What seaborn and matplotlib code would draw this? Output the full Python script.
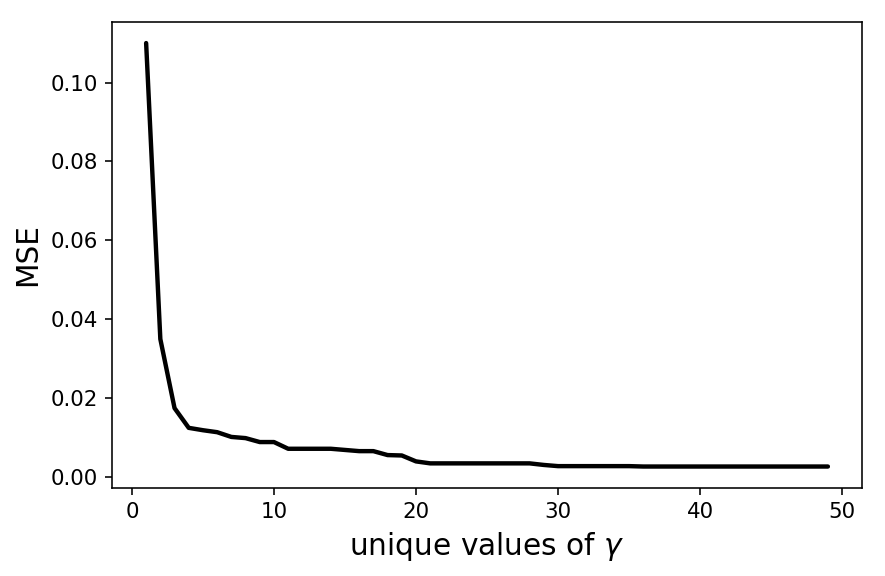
import pandas as pd
import seaborn as sns
import matplotlib.pyplot as plt

# number of unique gamma values vs. MSE
n_unique = list(range(1, 50))
mse = [0.110, 0.035, 0.0175, 0.0125, 0.0119, 0.0114, 0.0102, 0.0099, 0.0089, 0.0089,
       0.0072, 0.0072, 0.0072, 0.0072, 0.0069, 0.0066, 0.0066, 0.0056, 0.0055, 0.0040,
       0.0035, 0.0035, 0.0035, 0.0035, 0.0035, 0.0035, 0.0035, 0.0035, 0.0031, 0.0028,
       0.0028, 0.0028, 0.0028, 0.0028, 0.0028, 0.0027, 0.0027, 0.0027, 0.0027, 0.0027,
       0.0027, 0.0027, 0.0027, 0.0027, 0.0027, 0.0027, 0.0027, 0.0027, 0.0027]

df = pd.DataFrame({'n': n_unique, 'mse': mse})

sns.set_theme(style='ticks', rc={'text.color': 'black', 'axes.labelcolor': 'black',
                                 'xtick.color': 'black', 'ytick.color': 'black',
                                 'axes.edgecolor': 'black'})
plt.rcParams['font.family'] = ['DejaVu Sans']

fig = plt.figure(figsize=(885 / 144, 4), dpi=144)
ax = fig.add_axes([0.1266, 0.1533, 0.8474, 0.8087])
sns.lineplot(data=df, x='n', y='mse', color='black', linewidth=2.2, ax=ax)

ax.set_xlabel(r'unique values of $\gamma$', fontsize=14.8)
ax.set_ylabel('MSE', fontsize=14.8)
ax.tick_params(labelsize=10.7, width=0.8, length=3.5)
for s in ax.spines.values():
    s.set_linewidth(0.8)
ax.set_xticks([0, 10, 20, 30, 40, 50])
ax.set_yticks([0.00, 0.02, 0.04, 0.06, 0.08, 0.10])
ax.set_yticklabels(['0.00', '0.02', '0.04', '0.06', '0.08', '0.10'])

fig.savefig('out.png', dpi=144)
